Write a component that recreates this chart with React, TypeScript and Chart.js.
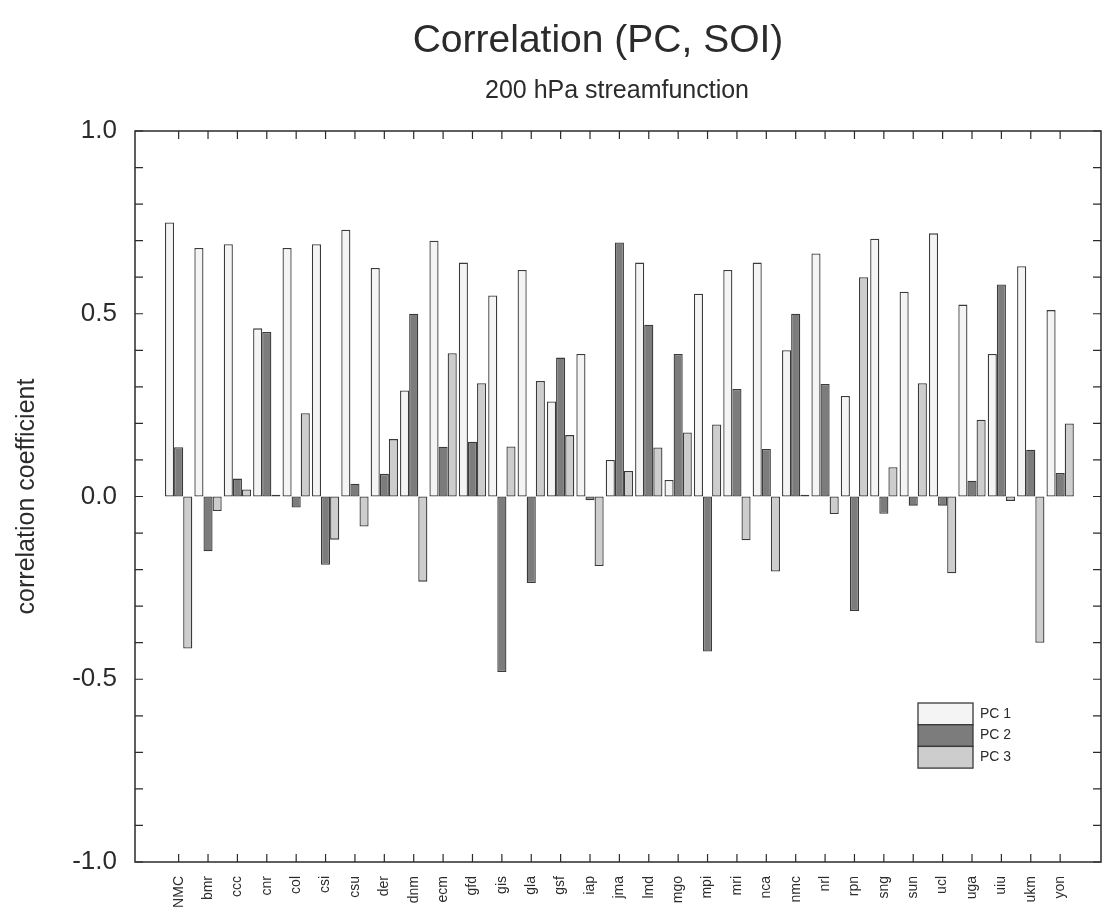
import React, { useEffect, useRef } from 'react';
import { Chart, registerables } from 'chart.js';

Chart.register(...registerables);

const models = ['NMC', 'bmr', 'ccc', 'cnr', 'col', 'csi', 'csu', 'der', 'dnm', 'ecm', 'gfd', 'gis', 'gla', 'gsf', 'iap', 'jma', 'lmd', 'mgo', 'mpi', 'mri', 'nca', 'nmc', 'nrl', 'rpn', 'sng', 'sun', 'ucl', 'uga', 'uiu', 'ukm', 'yon'];

const pc1 = [0.75, 0.68, 0.69, 0.46, 0.68, 0.69, 0.73, 0.625, 0.29, 0.70, 0.64, 0.55, 0.62, 0.26, 0.39, 0.10, 0.64, 0.045, 0.555, 0.62, 0.64, 0.40, 0.665, 0.275, 0.705, 0.56, 0.72, 0.525, 0.39, 0.63, 0.51];
const pc2 = [0.135, -0.15, 0.049, 0.45, -0.03, -0.187, 0.035, 0.062, 0.50, 0.136, 0.15, -0.48, -0.237, 0.38, -0.01, 0.695, 0.47, 0.39, -0.424, 0.294, 0.13, 0.50, 0.308, -0.313, -0.047, -0.025, -0.025, 0.043, 0.58, 0.128, 0.064];
const pc3 = [-0.416, -0.04, 0.019, 0.005, 0.228, -0.118, -0.082, 0.157, -0.233, 0.392, 0.31, 0.137, 0.316, 0.168, -0.19, 0.07, 0.134, 0.175, 0.197, -0.12, -0.205, 0.005, -0.048, 0.60, 0.08, 0.31, -0.21, 0.21, -0.012, -0.40, 0.20];

const seriesNames = ['PC 1', 'PC 2', 'PC 3'];
const yTickValues = [-1.0, -0.5, 0.0, 0.5, 1.0];
const titleText = 'Correlation (PC, SOI)';
const subtitleText = '200 hPa streamfunction';
const yAxisTitle = 'correlation coefficient';

const FONT = '"Liberation Sans", Arial, Helvetica, sans-serif';
const INK = '#2b2b2b';
const EDGE = '#3a3a3a';
const fills = ['#f4f4f4', '#7c7c7c', '#cdcdcd'];

const decorPlugin = {
  id: 'decor',
  afterDatasetsDraw(chart: any) {
    const { ctx, chartArea: a, scales } = chart;
    const xs = scales.x;
    const ys = scales.y;
    ctx.save();
    // frame
    ctx.strokeStyle = INK;
    ctx.lineWidth = 1.5;
    ctx.strokeRect(a.left, a.top, a.right - a.left, a.bottom - a.top);
    // inward ticks
    ctx.lineWidth = 1.2;
    ctx.beginPath();
    for (let k = -10; k <= 10; k++) {
      const py = ys.getPixelForValue(k / 10);
      ctx.moveTo(a.left, py);
      ctx.lineTo(a.left + 8, py);
      ctx.moveTo(a.right, py);
      ctx.lineTo(a.right - 8, py);
    }
    models.forEach((_, i) => {
      const px = xs.getPixelForValue(i);
      ctx.moveTo(px, a.top);
      ctx.lineTo(px, a.top + 8);
      ctx.moveTo(px, a.bottom);
      ctx.lineTo(px, a.bottom - 8);
    });
    ctx.stroke();

    // legend
    const lx = a.right - 183;
    const lw = 55;
    const ly = a.top + 572;
    const lh = 21.7;
    chart.data.datasets.forEach((ds: any, i: number) => {
      ctx.fillStyle = ds.backgroundColor;
      ctx.fillRect(lx, ly + i * lh, lw, lh);
      ctx.strokeStyle = EDGE;
      ctx.lineWidth = 1.3;
      ctx.strokeRect(lx, ly + i * lh, lw, lh);
      ctx.fillStyle = INK;
      ctx.font = `14px ${FONT}`;
      ctx.textAlign = 'left';
      ctx.textBaseline = 'middle';
      ctx.fillText(ds.label, lx + lw + 7, ly + i * lh + lh / 2);
    });

    // titles
    ctx.fillStyle = INK;
    ctx.textAlign = 'center';
    ctx.textBaseline = 'middle';
    ctx.font = `39px ${FONT}`;
    ctx.fillText(titleText, a.left + 463, 41);
    ctx.font = `25px ${FONT}`;
    ctx.fillText(subtitleText, a.left + 482, 91);
    ctx.restore();
  },
};

export default function App() {
  const ref = useRef<HTMLCanvasElement | null>(null);

  useEffect(() => {
    if (!ref.current) return;
    const mk = (arr: number[]) => arr.map((v, i) => ({ x: i, y: v }));
    const chart = new Chart(ref.current, {
      type: 'bar',
      data: {
        datasets: [pc1, pc2, pc3].map((arr, i) => ({
          label: seriesNames[i],
          data: mk(arr),
          backgroundColor: fills[i],
          borderColor: EDGE,
          borderWidth: 1.3,
          borderSkipped: false,
          categoryPercentage: 0.93,
          barPercentage: 1.0,
        })),
      },
      options: {
        animation: false,
        responsive: false,
        layout: { padding: { top: 131, right: 10, left: 0, bottom: 0 } },
        plugins: {
          legend: { display: false },
          title: { display: false },
          tooltip: { enabled: false },
        },
        scales: {
          x: {
            type: 'linear',
            min: -0.955,
            max: 30.86,
            grid: { display: false },
            border: { display: false },
            afterBuildTicks: (scale: any) => {
              scale.ticks = models.map((_, i) => ({ value: i }));
            },
            afterFit: (scale: any) => {
              scale.height = 58;
            },
            ticks: {
              autoSkip: false,
              minRotation: 90,
              maxRotation: 90,
              padding: 6,
              color: INK,
              font: { family: FONT, size: 14 },
              callback: (v: any) => models[v as number] ?? '',
            },
          },
          y: {
            min: -1,
            max: 1,
            grid: { display: false },
            border: { display: false },
            afterBuildTicks: (scale: any) => {
              scale.ticks = yTickValues.map((v) => ({ value: v }));
            },
            afterFit: (scale: any) => {
              scale.width = 135;
            },
            ticks: {
              padding: 10,
              color: INK,
              font: { family: FONT, size: 26 },
              callback: (v: any) => Number(v).toFixed(1),
            },
            title: {
              display: true,
              text: yAxisTitle,
              color: INK,
              font: { family: FONT, size: 25 },
              padding: { top: 12, bottom: 0 },
            },
          },
        },
      },
      plugins: [decorPlugin],
    } as any);
    return () => chart.destroy();
  }, []);

  return (
    <div style={{ position: 'absolute', left: 0, top: 0, width: 1111, height: 920, background: '#fff' }}>
      <canvas ref={ref} width={1111} height={920} style={{ display: 'block' }} />
    </div>
  );
}
